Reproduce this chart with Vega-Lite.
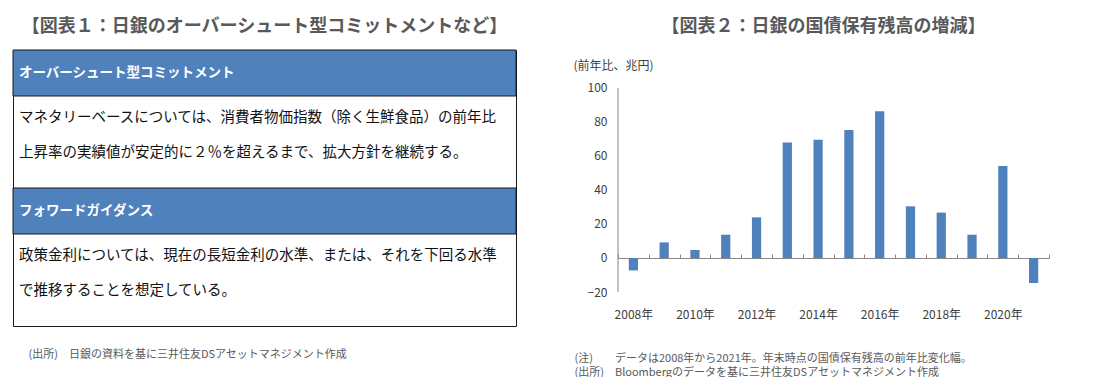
{
  "$schema": "https://vega.github.io/schema/vega-lite/v6.json",
  "padding": {"left": 12, "top": 17, "right": 5, "bottom": 0},
  "background": "white",
  "config": {"font": "Noto Sans CJK JP", "view": {"stroke": null}},
  "spacing": 56,
  "hconcat": [
    {
      "width": 503,
      "height": 276,
      "title": {"text": "【図表１：日銀のオーバーシュート型コミットメントなど】", "fontSize": 18, "fontWeight": "bold", "color": "#595959", "anchor": "middle", "offset": 14},
      "view": {"stroke": "#1a1a1a", "strokeWidth": 1},
      "data": {"values": [
        {"slot": "h1", "kind": "header", "label": "オーバーシュート型コミットメント"},
        {"slot": "b1a", "kind": "body", "label": "マネタリーベースについては、消費者物価指数（除く生鮮食品）の前年比\n上昇率の実績値が安定的に２％を超えるまで、拡大方針を継続する。"},
        {"slot": "h2", "kind": "header", "label": "フォワードガイダンス"},
        {"slot": "b2a", "kind": "body", "label": "政策金利については、現在の長短金利の水準、または、それを下回る水準\nで推移することを想定している。"}
      ]},
      "encoding": {
        "y": {"field": "slot", "type": "nominal", "scale": {"domain": ["h1", "b1a", "b1b", "h2", "b2a", "b2b"], "paddingInner": 0, "paddingOuter": 0}, "axis": null}
      },
      "layer": [
        {
          "transform": [{"filter": "datum.kind === 'header'"}],
          "mark": {"type": "rect", "fill": "#4F81BD", "stroke": "#1a1a1a", "strokeWidth": 1},
          "encoding": {
            "x": {"datum": 0, "type": "quantitative", "scale": {"domain": [0, 1]},
              "axis": {"labels": false, "ticks": false, "domain": false, "grid": false,
                "title": "(出所)　日銀の資料を基に三井住友DSアセットマネジメント作成",
                "titleAnchor": "start", "titleAlign": "left", "titleX": 15, "titlePadding": 22,
                "titleFontSize": 11, "titleFontWeight": "normal", "titleColor": "#595959"}},
            "x2": {"datum": 1}
          }
        },
        {
          "transform": [{"filter": "datum.kind === 'header'"}],
          "mark": {"type": "text", "align": "left", "baseline": "middle", "dx": 6, "fontSize": 13.5, "fontWeight": "bold", "color": "white"},
          "encoding": {
            "x": {"datum": 0, "type": "quantitative"},
            "text": {"field": "label"}
          }
        },
        {
          "transform": [{"filter": "datum.kind === 'body'"}],
          "mark": {"type": "text", "align": "left", "baseline": "top", "dx": 6, "dy": 15, "lineBreak": "\n", "lineHeight": 35, "fontSize": 14.5, "color": "#111111"},
          "encoding": {
            "x": {"datum": 0, "type": "quantitative"},
            "y": {"field": "slot", "type": "nominal", "bandPosition": 0},
            "text": {"field": "label"}
          }
        }
      ]
    },
    {
      "width": 431,
      "height": 242,
      "title": {"text": "【図表２：日銀の国債保有残高の増減】", "fontSize": 18, "fontWeight": "bold", "color": "#595959", "anchor": "middle", "offset": 14, "dx": -10},
      "layer": [
        {
          "data": {"values": [
            {"year": "2008", "value": -7.3},
            {"year": "2009", "value": 9.2},
            {"year": "2010", "value": 4.7},
            {"year": "2011", "value": 13.7},
            {"year": "2012", "value": 23.9},
            {"year": "2013", "value": 68.0},
            {"year": "2014", "value": 69.6},
            {"year": "2015", "value": 75.3},
            {"year": "2016", "value": 86.3},
            {"year": "2017", "value": 30.4},
            {"year": "2018", "value": 26.7},
            {"year": "2019", "value": 13.7},
            {"year": "2020", "value": 54.1},
            {"year": "2021", "value": -14.7}
          ]},
          "mark": {"type": "bar", "color": "#4F81BD", "width": {"band": 0.3}},
          "encoding": {
            "x": {"field": "year", "type": "ordinal", "scale": {"paddingInner": 0, "paddingOuter": 0},
              "axis": {"orient": "bottom", "offset": -34, "domainColor": "#868686", "ticks": true, "tickBand": "extent", "tickSize": -4, "tickColor": "#868686",
                "labelAngle": 0, "labelOverlap": false, "labelExpr": "isValid(datum.value) && toNumber(datum.value) % 2 === 0 ? datum.value + '年' : ''",
                "labelFontSize": 12, "labelColor": "#404040", "labelPadding": 55,
                "title": ["(注)　　データは2008年から2021年。年末時点の国債保有残高の前年比変化幅。", "(出所)　Bloombergのデータを基に三井住友DSアセットマネジメント作成"],
                "titleAnchor": "start", "titleAlign": "left", "titleX": -44, "titlePadding": 32, "titleFontSize": 11, "titleFontWeight": "normal", "titleColor": "#595959", "titleLineHeight": 14}},
            "y": {"field": "value", "type": "quantitative", "scale": {"domain": [-20, 122.35], "nice": false, "zero": false},
              "axis": {"values": [-20, 0, 20, 40, 60, 80, 100], "ticks": false, "grid": false, "domain": false,
                "labelFontSize": 12, "labelColor": "#404040", "labelPadding": 11,
                "title": "(前年比、兆円)", "titleAngle": 0, "titleAlign": "left", "titleBaseline": "middle", "titleX": -45, "titleY": 15,
                "titleFontSize": 12, "titleFontWeight": "normal", "titleColor": "#404040"}}
          }
        },
        {
          "data": {"values": [{"line": "y-axis"}]},
          "mark": {"type": "rule", "color": "#868686", "strokeWidth": 1},
          "encoding": {
            "x": {"datum": "2008", "type": "ordinal", "bandPosition": 0},
            "y": {"datum": -20, "type": "quantitative"},
            "y2": {"datum": 100}
          }
        }
      ]
    }
  ]
}
